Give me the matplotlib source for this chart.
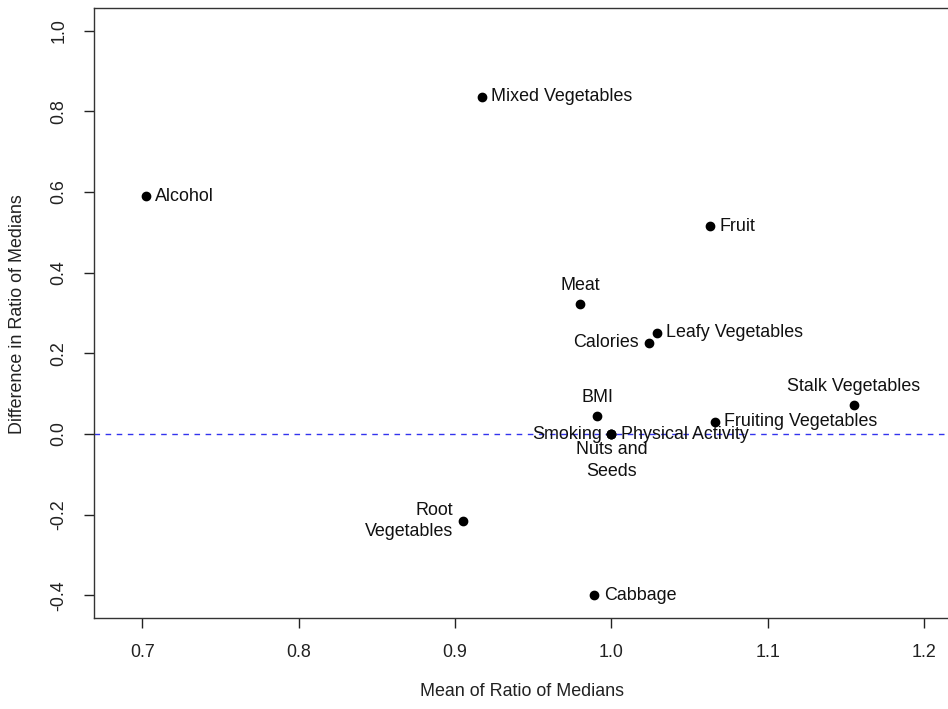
import matplotlib
matplotlib.use("Agg")
import matplotlib.pyplot as plt

plt.rcParams['font.family'] = ['Liberation Sans', 'DejaVu Sans']

# Variables: mean of ratio of medians (x) vs difference in ratio of medians (y)
labels = ["Mixed Vegetables", "Alcohol", "Fruit", "Meat", "Leafy Vegetables",
          "Calories", "BMI", "Smoking", "Physical Activity", "Nuts and\nSeeds",
          "Fruiting Vegetables", "Stalk Vegetables", "Root\nVegetables", "Cabbage"]
mean_ratio = [0.917, 0.702, 1.063, 0.980, 1.029,
              1.024, 0.991, 1.000, 1.000, 1.000,
              1.066, 1.155, 0.905, 0.989]
diff_ratio = [0.836, 0.590, 0.515, 0.323, 0.251,
              0.226, 0.045, 0.000, 0.000, 0.000,
              0.030, 0.072, -0.216, -0.400]
# label side relative to the point (R-style pos: 1 below, 2 left, 3 above, 4 right)
label_pos = [4, 4, 4, 3, 4,
             2, 3, 2, 4, 1,
             4, 3, 2, 4]

x_ticks = [0.7, 0.8, 0.9, 1.0, 1.1, 1.2]
y_ticks = [-0.4, -0.2, 0.0, 0.2, 0.4, 0.6, 0.8, 1.0]

W, H = 948, 709
fig = plt.figure(figsize=(W / 100, H / 100), dpi=100)

xlo, xhi = 0.669, 1.25
ylo, yhi = -0.456, 1.056
px_per_x = 1563.0
left_px, top_px, bottom_px = 94, 8, 618
width_px = (xhi - xlo) * px_per_x
ax = fig.add_axes([left_px / W, 1 - bottom_px / H,
                   width_px / W, (bottom_px - top_px) / H])
ax.set_xlim(xlo, xhi)
ax.set_ylim(ylo, yhi)

ax.axhline(0, color="#3333ee", linestyle=(0, (4, 4)), linewidth=1.0, zorder=1)
ax.plot(mean_ratio, diff_ratio, "o", color="black", markersize=6, zorder=3,
        clip_on=False)

fs = 12.9
off = 7
for lab, x, y, p in zip(labels, mean_ratio, diff_ratio, label_pos):
    if p == 4:
        kw = dict(xytext=(off, 0), ha="left", va="center")
    elif p == 2:
        kw = dict(xytext=(-off, 0), ha="right", va="center")
    elif p == 3:
        kw = dict(xytext=(0, off), ha="center", va="bottom")
    else:
        kw = dict(xytext=(0, -off + 2), ha="center", va="top")
    ax.annotate(lab, (x, y), textcoords="offset points", fontsize=fs,
                color="#111111", linespacing=1.35, zorder=4, **kw)

ax.set_xticks(x_ticks)
ax.set_xticklabels([f"{v:.1f}" for v in x_ticks])
ax.set_yticks(y_ticks)
ax.set_yticklabels([f"{v:.1f}" for v in y_ticks], rotation=90, va="center")
ax.tick_params(axis="both", direction="out", length=7, width=1, labelsize=fs,
               colors="#222222", pad=12)

for s in ["left", "bottom", "top", "right"]:
    ax.spines[s].set_linewidth(1.0)
    ax.spines[s].set_color("#333333")

fig.text(522 / W, 1 - 691 / H, "Mean of Ratio of Medians",
         ha="center", va="center", fontsize=fs, color="#222222")
fig.text(18 / W, 1 - 314 / H, "Difference in Ratio of Medians", rotation=90,
         ha="center", va="center", fontsize=fs, color="#222222")

fig.savefig("out.png", dpi=100)
